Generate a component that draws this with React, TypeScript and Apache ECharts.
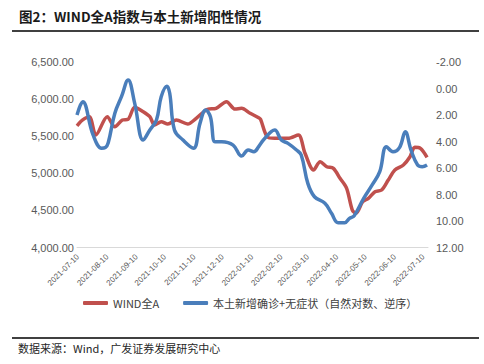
import React, { useEffect, useRef } from "react";
import * as echarts from "echarts";

const windDates = [
  "2021-07-09", "2021-07-15", "2021-07-22", "2021-07-29", "2021-08-10", "2021-08-18", "2021-08-26",
  "2021-09-01", "2021-09-08", "2021-09-17", "2021-09-24", "2021-09-29", "2021-10-06", "2021-10-13",
  "2021-10-22", "2021-11-03", "2021-11-12", "2021-11-24", "2021-12-03", "2021-12-14", "2021-12-23",
  "2021-12-30", "2022-01-08", "2022-01-17", "2022-01-19", "2022-01-26", "2022-02-03", "2022-02-17",
  "2022-02-28", "2022-03-07", "2022-03-16", "2022-03-23", "2022-03-30", "2022-04-06", "2022-04-13",
  "2022-04-20", "2022-04-26", "2022-04-30", "2022-05-07", "2022-05-13", "2022-05-20", "2022-05-27",
  "2022-06-03", "2022-06-10", "2022-06-19", "2022-06-26", "2022-07-01", "2022-07-07", "2022-07-14",
];
const windValues = [
  5640, 5720, 5763, 5516, 5763, 5628, 5718,
  5728, 5889, 5830, 5763, 5651, 5695, 5664,
  5718, 5664, 5741, 5863, 5876, 5965, 5866,
  5876, 5809, 5749, 5728, 5493, 5472, 5472,
  5516, 5270, 5044, 5156, 5089, 5067, 4933,
  4798, 4505, 4461, 4617, 4663, 4752, 4775,
  4910, 5044, 5112, 5224, 5350, 5337, 5216,
];

const caseDates = [
  "2021-07-09", "2021-07-15", "2021-07-26", "2021-08-04", "2021-08-08", "2021-08-11", "2021-08-18",
  "2021-08-25", "2021-09-01", "2021-09-08", "2021-09-17", "2021-09-24", "2021-10-01", "2021-10-06",
  "2021-10-12", "2021-10-15", "2021-10-20", "2021-10-29", "2021-11-09", "2021-11-16", "2021-11-22",
  "2021-11-27", "2021-12-02", "2021-12-09", "2021-12-21", "2021-12-30", "2022-01-06", "2022-01-12",
  "2022-01-17", "2022-01-22", "2022-02-03", "2022-02-10", "2022-02-17", "2022-02-26", "2022-03-03",
  "2022-03-10", "2022-03-17", "2022-03-28", "2022-04-04", "2022-04-11", "2022-04-18", "2022-04-23",
  "2022-04-28", "2022-05-08", "2022-05-17", "2022-05-25", "2022-06-01", "2022-06-08", "2022-06-15",
  "2022-06-21", "2022-06-27", "2022-07-04", "2022-07-09", "2022-07-14",
];
const caseValues = [
  2.0, 1.0, 3.5, 4.5, 4.45, 4.1, 1.87,
  0.62, -0.64, 1.12, 3.89, 3.13, 2.38, 0.62,
  -0.17, 0.36, 3.13, 3.89, 4.51, 2.63, 1.62,
  2.13, 4.02, 4.02, 4.27, 5.1, 4.64, 4.77,
  4.39, 3.89, 3.13, 3.89, 4.14, 4.64, 5.02,
  7.16, 8.17, 8.66, 9.42, 10.13, 10.13, 9.8,
  9.6, 8.29, 7.28, 6.28, 4.39, 4.77, 4.44,
  3.26, 4.64, 5.77, 5.9, 5.77,
];

const tickDates = [
  "2021-07-10", "2021-08-10", "2021-09-10", "2021-10-10", "2021-11-10", "2021-12-10", "2022-01-10",
  "2022-02-10", "2022-03-10", "2022-04-10", "2022-05-10", "2022-06-10", "2022-07-10",
];

const seriesNames = ["WIND全A", "本土新增确诊+无症状（自然对数、逆序）"];
const titleText = "图2：WIND全A指数与本土新增阳性情况";
const sourceText = "数据来源：Wind，广发证券发展研究中心";

const DAY = 86400000;
function toDay(s: string): number {
  const [y, m, d] = s.split("-").map(Number);
  return Math.round(Date.UTC(y, m - 1, d) / DAY);
}
function pad(n: number): string {
  return n < 10 ? "0" + n : "" + n;
}
function fmtDay(v: number): string {
  const d = new Date(Math.round(v) * DAY);
  return `${d.getUTCFullYear()}-${pad(d.getUTCMonth() + 1)}-${pad(d.getUTCDate())}`;
}

export default function App() {
  const ref = useRef<HTMLDivElement>(null);
  useEffect(() => {
    if (!ref.current) return;
    const chart = echarts.init(ref.current, undefined, { renderer: "svg" });
    const latin = "'Liberation Sans', Arial, sans-serif";
    const cjk = "'Noto Sans CJK SC', 'Liberation Sans', sans-serif";
    chart.setOption({
      animation: false,
      backgroundColor: "#ffffff",
      grid: { left: 77, right: 56, top: 62, bottom: 116.5, containLabel: false },
      legend: {
        left: 83,
        top: 297,
        padding: 0,
        itemWidth: 25,
        itemHeight: 4,
        itemGap: 24,
        icon: "roundRect",
        textStyle: { fontSize: 11, fontFamily: cjk, color: "#404040", lineHeight: 12 },
        data: seriesNames,
      },
      xAxis: {
        type: "value",
        min: toDay("2021-07-09"),
        max: toDay("2022-07-15"),
        axisLine: { show: true, onZero: false, lineStyle: { color: "#D9D9D9", width: 1 } },
        axisTick: { show: false },
        splitLine: { show: false },
        axisLabel: {
          customValues: tickDates.map(toDay),
          rotate: 45,
          margin: 8,
          fontSize: 8,
          fontFamily: latin,
          color: "#595959",
          hideOverlap: false,
          showMinLabel: true,
          showMaxLabel: true,
          formatter: (v: number) => fmtDay(v),
        },
      },
      yAxis: [
        {
          type: "value",
          min: 4000,
          max: 6500,
          interval: 500,
          axisLine: { show: false },
          axisTick: { show: false },
          splitLine: { show: false },
          axisLabel: {
            margin: 3,
            fontSize: 11,
            fontFamily: latin,
            color: "#595959",
            formatter: (v: number) =>
              v.toLocaleString("en-US", { minimumFractionDigits: 2, maximumFractionDigits: 2 }),
          },
        },
        {
          type: "value",
          min: -2,
          max: 12,
          interval: 2,
          inverse: true,
          position: "right",
          axisLine: { show: false },
          axisTick: { show: false },
          splitLine: { show: false },
          axisLabel: {
            margin: 8,
            fontSize: 11,
            fontFamily: latin,
            color: "#595959",
            formatter: (v: number) => v.toFixed(2),
          },
        },
      ],
      series: [
        {
          name: seriesNames[0],
          type: "line",
          yAxisIndex: 0,
          smooth: 0.3,
          showSymbol: false,
          symbol: "none",
          color: "#C0504D",
          lineStyle: { width: 3.5, color: "#C0504D" },
          data: windDates.map((d, i) => [toDay(d), windValues[i]]),
        },
        {
          name: seriesNames[1],
          type: "line",
          yAxisIndex: 1,
          smooth: 0.4,
          showSymbol: false,
          symbol: "none",
          color: "#4A7EBB",
          lineStyle: { width: 3.5, color: "#4A7EBB" },
          data: caseDates.map((d, i) => [toDay(d), caseValues[i]]),
        },
      ],
      graphic: [
        {
          type: "text",
          left: 19,
          top: 9,
          style: {
            text: titleText,
            fontSize: 13.5,
            fontWeight: "bold",
            fontFamily: cjk,
            fill: "#1a1a1a",
          },
        },
        {
          type: "line",
          shape: { x1: 12, y1: 31, x2: 479, y2: 31 },
          style: { stroke: "#000000", lineWidth: 1.5 },
        },
        {
          type: "line",
          shape: { x1: 12, y1: 338, x2: 479, y2: 338 },
          style: { stroke: "#000000", lineWidth: 1.5 },
        },
        {
          type: "text",
          left: 18,
          top: 342,
          style: {
            text: sourceText,
            fontSize: 11,
            fontFamily: cjk,
            fill: "#262626",
          },
        },
      ],
    });
    return () => chart.dispose();
  }, []);
  return <div ref={ref} style={{ width: 484, height: 364, position: "absolute", left: 0, top: 0 }} />;
}
